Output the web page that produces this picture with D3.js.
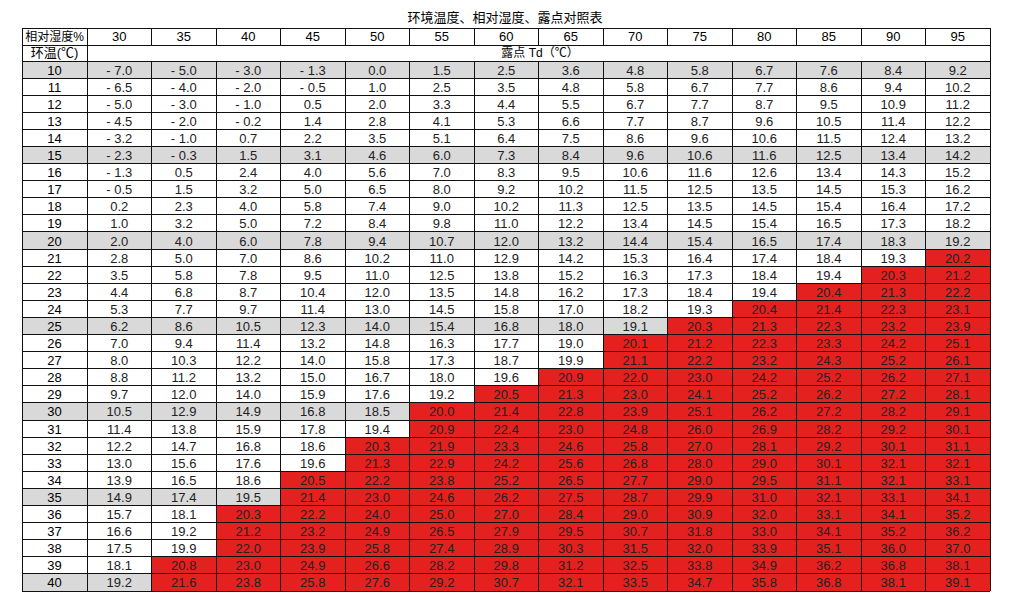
<!DOCTYPE html>
<html>
<head>
<meta charset="utf-8">
<script src="https://cdn.jsdelivr.net/npm/d3@7"></script>
<style>
body { margin: 0; background: #fff; }
text { font-family: "Liberation Sans", "Noto Sans CJK SC", sans-serif; }
</style>
</head>
<body>
<svg id="chart" width="1023" height="612"></svg>
<script>
let humidity = [30, 35, 40, 45, 50, 55, 60, 65, 70, 75, 80, 85, 90, 95]
let temps = d3.range(10, 41)
let dewPoints = [
    [-7.0, -5.0, -3.0, -1.3, 0.0, 1.5, 2.5, 3.6, 4.8, 5.8, 6.7, 7.6, 8.4, 9.2],
    [-6.5, -4.0, -2.0, -0.5, 1.0, 2.5, 3.5, 4.8, 5.8, 6.7, 7.7, 8.6, 9.4, 10.2],
    [-5.0, -3.0, -1.0, 0.5, 2.0, 3.3, 4.4, 5.5, 6.7, 7.7, 8.7, 9.5, 10.9, 11.2],
    [-4.5, -2.0, -0.2, 1.4, 2.8, 4.1, 5.3, 6.6, 7.7, 8.7, 9.6, 10.5, 11.4, 12.2],
    [-3.2, -1.0, 0.7, 2.2, 3.5, 5.1, 6.4, 7.5, 8.6, 9.6, 10.6, 11.5, 12.4, 13.2],
    [-2.3, -0.3, 1.5, 3.1, 4.6, 6.0, 7.3, 8.4, 9.6, 10.6, 11.6, 12.5, 13.4, 14.2],
    [-1.3, 0.5, 2.4, 4.0, 5.6, 7.0, 8.3, 9.5, 10.6, 11.6, 12.6, 13.4, 14.3, 15.2],
    [-0.5, 1.5, 3.2, 5.0, 6.5, 8.0, 9.2, 10.2, 11.5, 12.5, 13.5, 14.5, 15.3, 16.2],
    [0.2, 2.3, 4.0, 5.8, 7.4, 9.0, 10.2, 11.3, 12.5, 13.5, 14.5, 15.4, 16.4, 17.2],
    [1.0, 3.2, 5.0, 7.2, 8.4, 9.8, 11.0, 12.2, 13.4, 14.5, 15.4, 16.5, 17.3, 18.2],
    [2.0, 4.0, 6.0, 7.8, 9.4, 10.7, 12.0, 13.2, 14.4, 15.4, 16.5, 17.4, 18.3, 19.2],
    [2.8, 5.0, 7.0, 8.6, 10.2, 11.0, 12.9, 14.2, 15.3, 16.4, 17.4, 18.4, 19.3, 20.2],
    [3.5, 5.8, 7.8, 9.5, 11.0, 12.5, 13.8, 15.2, 16.3, 17.3, 18.4, 19.4, 20.3, 21.2],
    [4.4, 6.8, 8.7, 10.4, 12.0, 13.5, 14.8, 16.2, 17.3, 18.4, 19.4, 20.4, 21.3, 22.2],
    [5.3, 7.7, 9.7, 11.4, 13.0, 14.5, 15.8, 17.0, 18.2, 19.3, 20.4, 21.4, 22.3, 23.1],
    [6.2, 8.6, 10.5, 12.3, 14.0, 15.4, 16.8, 18.0, 19.1, 20.3, 21.3, 22.3, 23.2, 23.9],
    [7.0, 9.4, 11.4, 13.2, 14.8, 16.3, 17.7, 19.0, 20.1, 21.2, 22.3, 23.3, 24.2, 25.1],
    [8.0, 10.3, 12.2, 14.0, 15.8, 17.3, 18.7, 19.9, 21.1, 22.2, 23.2, 24.3, 25.2, 26.1],
    [8.8, 11.2, 13.2, 15.0, 16.7, 18.0, 19.6, 20.9, 22.0, 23.0, 24.2, 25.2, 26.2, 27.1],
    [9.7, 12.0, 14.0, 15.9, 17.6, 19.2, 20.5, 21.3, 23.0, 24.1, 25.2, 26.2, 27.2, 28.1],
    [10.5, 12.9, 14.9, 16.8, 18.5, 20.0, 21.4, 22.8, 23.9, 25.1, 26.2, 27.2, 28.2, 29.1],
    [11.4, 13.8, 15.9, 17.8, 19.4, 20.9, 22.4, 23.0, 24.8, 26.0, 26.9, 28.2, 29.2, 30.1],
    [12.2, 14.7, 16.8, 18.6, 20.3, 21.9, 23.3, 24.6, 25.8, 27.0, 28.1, 29.2, 30.1, 31.1],
    [13.0, 15.6, 17.6, 19.6, 21.3, 22.9, 24.2, 25.6, 26.8, 28.0, 29.0, 30.1, 32.1, 32.1],
    [13.9, 16.5, 18.6, 20.5, 22.2, 23.8, 25.2, 26.5, 27.7, 29.0, 29.5, 31.1, 32.1, 33.1],
    [14.9, 17.4, 19.5, 21.4, 23.0, 24.6, 26.2, 27.5, 28.7, 29.9, 31.0, 32.1, 33.1, 34.1],
    [15.7, 18.1, 20.3, 22.2, 24.0, 25.0, 27.0, 28.4, 29.0, 30.9, 32.0, 33.1, 34.1, 35.2],
    [16.6, 19.2, 21.2, 23.2, 24.9, 26.5, 27.9, 29.5, 30.7, 31.8, 33.0, 34.1, 35.2, 36.2],
    [17.5, 19.9, 22.0, 23.9, 25.8, 27.4, 28.9, 30.3, 31.5, 32.0, 33.9, 35.1, 36.0, 37.0],
    [18.1, 20.8, 23.0, 24.9, 26.6, 28.2, 29.8, 31.2, 32.5, 33.8, 34.9, 36.2, 36.8, 38.1],
    [19.2, 21.6, 23.8, 25.8, 27.6, 29.2, 30.7, 32.1, 33.5, 34.7, 35.8, 36.8, 38.1, 39.1]
]
let highlightRows = [10, 15, 20, 25, 30, 35, 40]
let redThreshold = 20

let svg = d3.select('#chart')

let left = 22, firstCol = 65, right = 990
let x = d3.scaleBand().domain(humidity).range([left + firstCol, right])
let y = d3.scaleBand().domain(temps).range([61, 591])
let headerY = 28, header2Y = 45

svg.append('text')
    .attr('x', 505).attr('y', 22)
    .attr('text-anchor', 'middle')
    .attr('font-size', 13)
    .text('环境温度、相对湿度、露点对照表')

// row backgrounds
let rows = svg.append('g').selectAll('g').data(temps).join('g')
    .attr('transform', t => `translate(0,${y(t)})`)

rows.append('rect')
    .attr('x', left).attr('width', right - left)
    .attr('height', y.bandwidth())
    .attr('fill', t => highlightRows.includes(t) ? '#d9d9d9' : '#fff')

rows.selectAll('rect.cell')
    .data((t, i) => dewPoints[i].map((v, j) => ({ h: humidity[j], v })))
    .join('rect')
    .classed('cell', true)
    .attr('x', d => x(d.h)).attr('width', x.bandwidth())
    .attr('height', y.bandwidth())
    .attr('fill', d => d.v >= redThreshold ? '#e5211f' : 'none')

rows.append('text')
    .attr('x', left + firstCol / 2).attr('y', y.bandwidth() / 2 + 5)
    .attr('text-anchor', 'middle').attr('font-size', 13)
    .text(t => t)

rows.selectAll('text.val')
    .data((t, i) => dewPoints[i].map((v, j) => ({ h: humidity[j], v })))
    .join('text')
    .classed('val', true)
    .attr('x', d => x(d.h) + x.bandwidth() / 2)
    .attr('y', y.bandwidth() / 2 + 5)
    .attr('text-anchor', 'middle').attr('font-size', 13)
    .attr('fill', '#222')
    .text(d => d3.format('.1f')(d.v).replace('\u2212', '- '))

// header rows
svg.append('text')
    .attr('x', left + firstCol / 2).attr('y', headerY + 13)
    .attr('text-anchor', 'middle').attr('font-size', 12)
    .text('相对湿度%')
svg.selectAll('text.hum').data(humidity).join('text')
    .attr('class', 'hum')
    .attr('x', d => x(d) + x.bandwidth() / 2).attr('y', headerY + 13)
    .attr('text-anchor', 'middle').attr('font-size', 13)
    .text(d => d)
svg.append('text')
    .attr('x', left + firstCol / 2).attr('y', header2Y + 12)
    .attr('text-anchor', 'middle').attr('font-size', 13)
    .text('环温(℃)')
svg.append('text')
    .attr('x', 540).attr('y', header2Y + 12)
    .attr('text-anchor', 'middle').attr('font-size', 12)
    .text('露点 Td（℃）')

// grid lines
let grid = svg.append('g').attr('stroke', '#111').attr('stroke-width', 1).attr('shape-rendering', 'crispEdges')
let hLines = [headerY, header2Y].concat(temps.map(t => y(t)), [y.range()[1]])
grid.selectAll('line.h').data(hLines).join('line')
    .attr('x1', left).attr('x2', right)
    .attr('y1', d => d).attr('y2', d => d)
let vLines = [left, left + firstCol].concat(humidity.map(h => x(h) + x.bandwidth()))
grid.selectAll('line.v').data(vLines).join('line')
    .attr('x1', d => d).attr('x2', d => d)
    .attr('y1', headerY)
    .attr('y2', (d, i) => (i < 2 || i === vLines.length - 1) ? y.range()[1] : header2Y)
grid.selectAll('line.v2').data(humidity.slice(0, -1)).join('line')
    .attr('x1', h => x(h) + x.bandwidth()).attr('x2', h => x(h) + x.bandwidth())
    .attr('y1', y.range()[0]).attr('y2', y.range()[1])
</script>
</body>
</html>
